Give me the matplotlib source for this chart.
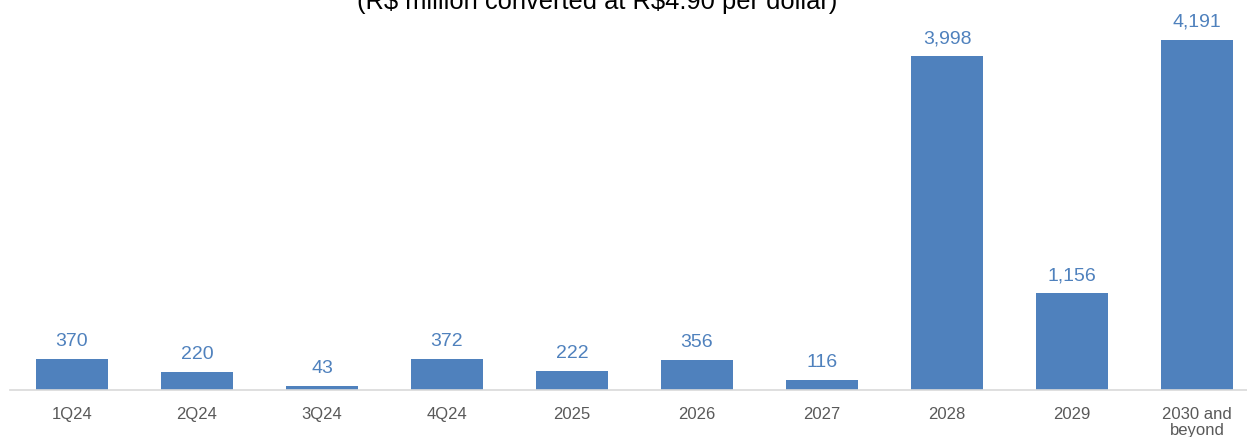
import matplotlib
matplotlib.use('Agg')
import matplotlib.pyplot as plt
import numpy as np

matplotlib.rc('font', family=['Liberation Sans', 'DejaVu Sans'])

categories = ['1Q24', '2Q24', '3Q24', '4Q24', '2025', '2026', '2027', '2028', '2029', '2030 and\nbeyond']
values = [370, 220, 43, 372, 222, 356, 116, 3998, 1156, 4191]

bar_color = '#4F81BD'
label_color = '#4F81BD'

fig = plt.figure(figsize=(12.47, 4.37), dpi=100)
W, H = 1247., 437.
# axes spans past the right edge, like the source
ax = fig.add_axes([9.5 / W, 47 / H, 1250 / W, 375.8 / H])

x = np.arange(len(values))
ax.bar(x, values, width=0.58, color=bar_color, zorder=2)
ax.set_xlim(-0.5, len(values) - 0.5)
ax.set_ylim(0, 4500)

for xi, v in zip(x, values):
    ax.annotate('{:,}'.format(v), (xi, v), xytext=(0, 6.5), textcoords='offset points',
                ha='center', va='bottom', fontsize=14, color=label_color)

ax.set_xticks(x)
ax.set_xticklabels(categories, fontsize=12, color='#595959', linespacing=1.05, va='top')
ax.tick_params(axis='x', length=0, pad=12.5)
ax.set_yticks([])
for s in ['top', 'left', 'right']:
    ax.spines[s].set_visible(False)
ax.spines['bottom'].set_color('#D9D9D9')
ax.spines['bottom'].set_linewidth(1.2)

# title is clipped at the top in the source too
fig.text(597 / W, 428 / H, r'(R\$ million converted at R\$4.90 per dollar)',
         ha='center', va='baseline', fontsize=18.4, color='black')
fig.text(837 / W, 434 / H, '*', ha='left', va='baseline', fontsize=10, color='black')

fig.savefig('out.png', dpi=100)
